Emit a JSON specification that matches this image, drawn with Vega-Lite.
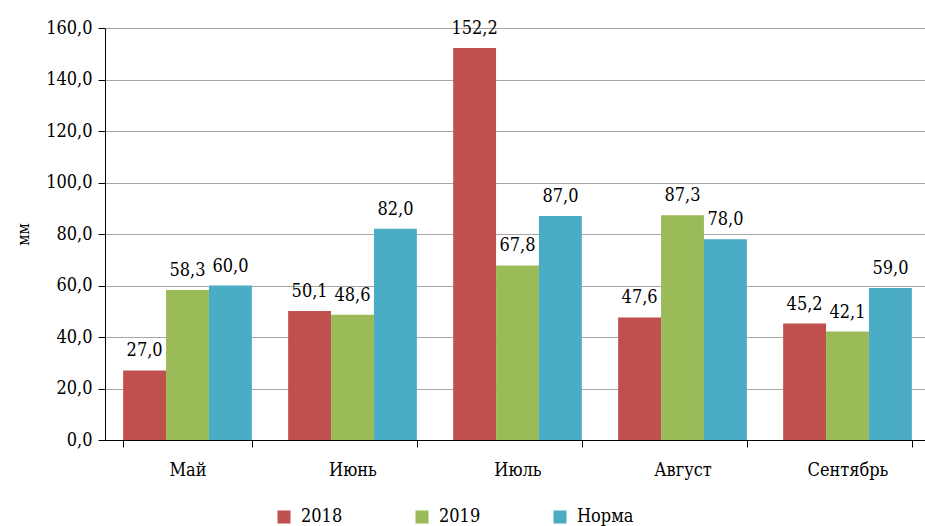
{
  "$schema": "https://vega.github.io/schema/vega-lite/v6.json",
  "autosize": "none",
  "width": 825,
  "height": 412,
  "padding": {"left": 105, "top": 28, "right": 0, "bottom": 86},
  "background": "white",
  "config": {
    "locale": {"number": {"decimal": ",", "thousands": " ", "grouping": [3], "currency": ["", ""]}},
    "font": "DejaVu Serif Condensed",
    "view": {"stroke": null}
  },
  "data": {"values": [
    {"month": "Май", "series": "2018", "value": 27.0},
    {"month": "Май", "series": "2019", "value": 58.3},
    {"month": "Май", "series": "Норма", "value": 60.0},
    {"month": "Июнь", "series": "2018", "value": 50.1},
    {"month": "Июнь", "series": "2019", "value": 48.6},
    {"month": "Июнь", "series": "Норма", "value": 82.0},
    {"month": "Июль", "series": "2018", "value": 152.2},
    {"month": "Июль", "series": "2019", "value": 67.8},
    {"month": "Июль", "series": "Норма", "value": 87.0},
    {"month": "Август", "series": "2018", "value": 47.6},
    {"month": "Август", "series": "2019", "value": 87.3},
    {"month": "Август", "series": "Норма", "value": 78.0},
    {"month": "Сентябрь", "series": "2018", "value": 45.2},
    {"month": "Сентябрь", "series": "2019", "value": 42.1},
    {"month": "Сентябрь", "series": "Норма", "value": 59.0}
  ]},
  "encoding": {
    "x": {
      "field": "month", "type": "nominal",
      "sort": ["Май", "Июнь", "Июль", "Август", "Сентябрь"],
      "scale": {"paddingInner": 0.22, "paddingOuter": 0.11},
      "axis": {
        "title": null, "labelAngle": 0, "labelFontSize": 18, "labelColor": "black",
        "labelPadding": 14, "tickBand": "extent", "tickSize": 7, "tickColor": "black",
        "domainColor": "black", "grid": false
      }
    },
    "xOffset": {"field": "series", "type": "nominal", "scale": {"paddingInner": 0, "paddingOuter": 0}},
    "y": {
      "field": "value", "type": "quantitative",
      "scale": {"domain": [0, 160], "nice": false},
      "axis": {
        "title": "мм", "titleFontSize": 16, "titleFontWeight": "normal", "titleColor": "black",
        "titlePadding": 14,
        "values": [0, 20, 40, 60, 80, 100, 120, 140, 160], "format": ".1f",
        "labelOverlap": false,
        "labelFontSize": 18, "labelColor": "black", "labelPadding": 6,
        "tickSize": 7, "tickColor": "black", "domainColor": "black",
        "gridColor": "#a6a6a6", "gridWidth": 1
      }
    }
  },
  "layer": [
    {
      "mark": {"type": "bar"},
      "encoding": {
        "color": {
          "field": "series", "type": "nominal",
          "scale": {"domain": ["2018", "2019", "Норма"], "range": ["#C0504D", "#9BBB59", "#4BACC6"]},
          "legend": {
            "title": null, "orient": "none", "direction": "horizontal",
            "legendX": 170, "legendY": 480,
            "symbolType": "square", "symbolSize": 170, "symbolStrokeWidth": 0,
            "labelFontSize": 18, "labelColor": "black", "labelOffset": 8,
            "columnPadding": 70
          }
        }
      }
    },
    {
      "mark": {"type": "text", "baseline": "bottom", "dy": -10, "fontSize": 18, "color": "black"},
      "encoding": {
        "text": {"field": "value", "type": "quantitative", "format": ".1f"}
      }
    }
  ]
}
